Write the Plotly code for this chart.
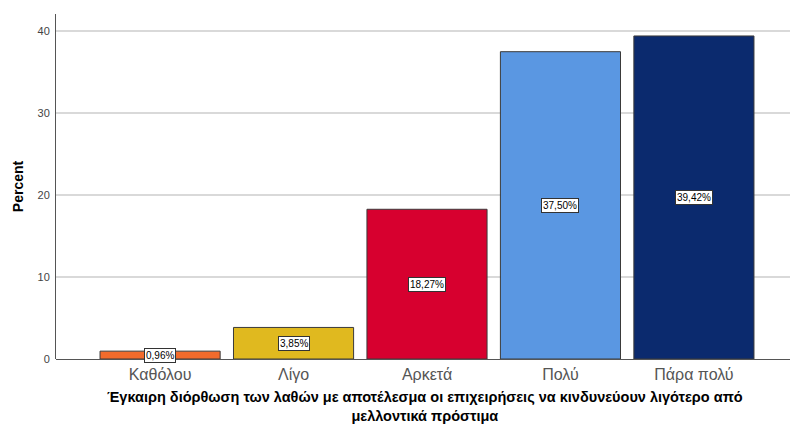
import plotly.graph_objects as go

categories = ["Καθόλου", "Λίγο", "Αρκετά", "Πολύ", "Πάρα πολύ"]
percents = [0.96, 3.85, 18.27, 37.50, 39.42]
labels = ["0,96%", "3,85%", "18,27%", "37,50%", "39,42%"]
colors = ["#F26B2C", "#E0B91F", "#D7002F", "#5A97E2", "#0B2A6E"]
y_ticks = [0, 10, 20, 30, 40]
x_title = ("Έγκαιρη διόρθωση των λαθών με αποτέλεσμα οι επιχειρήσεις να κινδυνεύουν λιγότερο από"
           "<br>μελλοντικά πρόστιμα")

FONT = "Liberation Sans, Arial, sans-serif"

fig = go.Figure()
fig.add_trace(go.Bar(
    x=list(range(len(categories))),
    y=percents,
    width=0.9,
    marker=dict(color=colors, line=dict(color="#3a3a3a", width=1)),
    hoverinfo="skip",
))

for i, (v, lab) in enumerate(zip(percents, labels)):
    fig.add_annotation(
        x=i, y=v / 2, text=lab, showarrow=False,
        font=dict(family=FONT, size=10, color="#000000"),
        bgcolor="#FFFFFF", bordercolor="#333333", borderwidth=1, borderpad=1,
    )

fig.add_annotation(
    x=0.503, xref="paper", y=0, yref="paper", yanchor="bottom",
    yshift=-66, text=x_title, showarrow=False, align="center",
    font=dict(family=FONT, size=14.5, color="#000000", weight="bold"),
    borderpad=0,
)

fig.update_layout(
    width=790, height=426,
    margin=dict(l=56, r=0, t=14, b=67),
    paper_bgcolor="#FFFFFF", plot_bgcolor="#FFFFFF",
    showlegend=False,
    font=dict(family=FONT),
    bargap=0.1,
)
fig.update_xaxes(
    range=[-0.78, 4.72],
    tickvals=list(range(len(categories))),
    ticktext=categories,
    tickfont=dict(family=FONT, size=16, color="#555555"),
    showgrid=False, zeroline=False,
    showline=False, ticks="", ticklabelstandoff=4,
)
fig.update_yaxes(
    range=[0, 42.1],
    tickvals=y_ticks,
    tickfont=dict(family=FONT, size=11, color="#444444"),
    showgrid=True, gridcolor="#D9D9D9", gridwidth=1.5,
    zeroline=True, zerolinecolor="#555555", zerolinewidth=1,
    showline=True, linecolor="#555555", linewidth=1,
    ticks="", ticklabelstandoff=3,
    title=dict(text="Percent", font=dict(family=FONT, size=14, color="#000000", weight="bold"), standoff=10),
)

fig.write_html("out.html")
